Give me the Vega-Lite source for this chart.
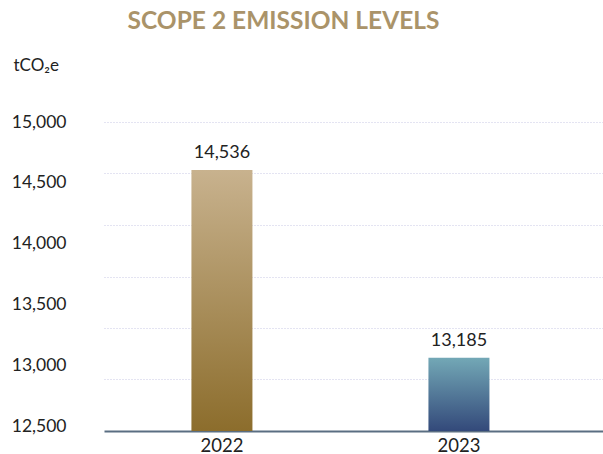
{
  "$schema": "https://vega.github.io/schema/vega-lite/v6.json",
  "width": 499,
  "height": 309,
  "autosize": {"type": "none"},
  "padding": {"left": 104, "top": 122, "right": 0, "bottom": 23},
  "background": "white",
  "config": {"view": {"stroke": null}},
  "title": {
    "text": "SCOPE 2 EMISSION LEVELS",
    "font": "Lato",
    "fontSize": 24.5,
    "fontWeight": "bold",
    "color": "#aa9369",
    "anchor": "middle",
    "dx": -70,
    "dy": -18
  },
  "data": {
    "values": [
      {"year": "2022", "emissions": 14536},
      {"year": "2023", "emissions": 13185}
    ]
  },
  "layer": [
    {
      "encoding": {
        "x": {
          "field": "year",
          "type": "nominal",
          "scale": {"paddingInner": 0.7426, "paddingOuter": 0.424, "align": 0.435},
          "axis": {
            "title": null,
            "labelAngle": 0,
            "ticks": false,
            "grid": false,
            "domainColor": "#5a6e82",
            "domainWidth": 2,
            "labelFont": "Lato",
            "labelFontSize": 18.5,
            "labelColor": "#222222",
            "labelPadding": 5
          }
        },
        "y": {
          "field": "emissions",
          "type": "quantitative",
          "scale": {"domain": [12657, 14881], "zero": false, "nice": false, "clamp": true},
          "axis": {
            "orient": "left",
            "values": [13028, 13398, 13769, 14140, 14511, 14881],
            "labels": false,
            "ticks": false,
            "domain": false,
            "grid": true,
            "gridColor": "#c9c9e4",
            "gridDash": [1, 2],
            "gridWidth": 1,
            "title": null
          }
        }
      },
      "layer": [
        {
          "transform": [{"filter": "datum.year === '2022'"}],
          "mark": {
            "type": "bar",
            "color": {
              "gradient": "linear", "x1": 0, "y1": 0, "x2": 0, "y2": 1,
              "stops": [
                {"offset": 0, "color": "#c8b28e"},
                {"offset": 1, "color": "#8c6d2c"}
              ]
            }
          }
        },
        {
          "transform": [{"filter": "datum.year === '2023'"}],
          "mark": {
            "type": "bar",
            "color": {
              "gradient": "linear", "x1": 0, "y1": 0, "x2": 0, "y2": 1,
              "stops": [
                {"offset": 0, "color": "#73a8b6"},
                {"offset": 1, "color": "#33497a"}
              ]
            }
          }
        },
        {
          "mark": {
            "type": "text",
            "baseline": "bottom",
            "dy": -8,
            "font": "Lato",
            "fontSize": 18,
            "color": "#222222"
          },
          "encoding": {
            "text": {"field": "emissions", "type": "quantitative", "format": ",.0f"}
          }
        }
      ]
    },
    {
      "mark": {"type": "point", "opacity": 0},
      "encoding": {
        "y": {
          "field": "emissions",
          "type": "quantitative",
          "scale": {"domain": [12460, 15000], "zero": false, "nice": false},
          "axis": {
            "orient": "left",
            "values": [12500, 13000, 13500, 14000, 14500, 15000],
            "format": ",.0f",
            "grid": false,
            "ticks": false,
            "domain": false,
            "labelPadding": 38,
            "labelFont": "Lato",
            "labelFontSize": 17.5,
            "labelColor": "#222222",
            "labelFlush": false,
            "labelOverlap": false,
            "labelBound": false,
            "title": "tCO₂e",
            "titleAngle": 0,
            "titleX": -91,
            "titleY": -57,
            "titleAlign": "left",
            "titleBaseline": "middle",
            "titleFont": "Lato",
            "titleFontSize": 17,
            "titleFontWeight": "normal",
            "titleColor": "#222222"
          }
        }
      }
    }
  ],
  "resolve": {"scale": {"y": "independent"}, "axis": {"y": "independent"}}
}
